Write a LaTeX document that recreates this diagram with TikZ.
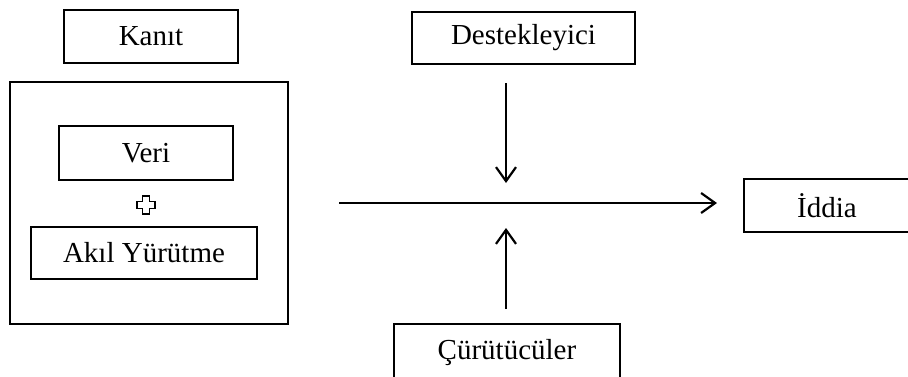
\documentclass[tikz,border=0pt]{standalone}
\usepackage{fontspec}
\setmainfont{Liberation Serif}
\usetikzlibrary{arrows.meta}
\begin{document}
\begin{tikzpicture}[x=1pt,y=-1pt,
  box/.style={draw=black,line width=1.6pt,inner sep=0pt,font=\fontsize{29}{34}\selectfont},
  conn/.style={line width=2.4pt,-{Straight Barb[length=14pt,width=20pt,line width=2.2pt]}}]
\useasboundingbox (0,0) rectangle (908,376);
\clip (0,0) rectangle (908,376);
% nodes
\node[box,minimum width=174pt,minimum height=53pt] (kanit) at (151,36.5) {Kanıt};
\draw[line width=1.6pt] (10,82) rectangle (288,324);
\node[box,minimum width=174pt,minimum height=54pt] (veri) at (146,153) {Veri};
\node[box,minimum width=226pt,minimum height=52pt] (akil) at (144,253) {Akıl Yürütme};
\node[box,minimum width=223pt,minimum height=52pt] (destek) at (523.5,38) {Destekleyici};
\node[box,minimum width=166pt,minimum height=53pt] (iddia) at (827,205.5) {İddia};
\node[box,minimum width=226pt,minimum height=58pt] (curut) at (507,353) {Çürütücüler};
% outlined plus
\draw[line width=1.4pt,line join=miter]
  (142.5,196) -- (149.5,196) -- (149.5,201.5) -- (155,201.5) -- (155,208.5)
  -- (149.5,208.5) -- (149.5,214) -- (142.5,214) -- (142.5,208.5) -- (137,208.5)
  -- (137,201.5) -- (142.5,201.5) -- cycle;
% connectors
\coordinate (dstart) at (506,83);
\coordinate (dend) at (506,183);
\coordinate (ustart) at (506,309);
\coordinate (uend) at (506,228);
\coordinate (hstart) at (339,203);
\coordinate (hend) at (717,203);
\draw[conn] (dstart) -- (dend);
\draw[conn] (ustart) -- (uend);
\draw[conn] (hstart) -- (hend);
\end{tikzpicture}
\end{document}
